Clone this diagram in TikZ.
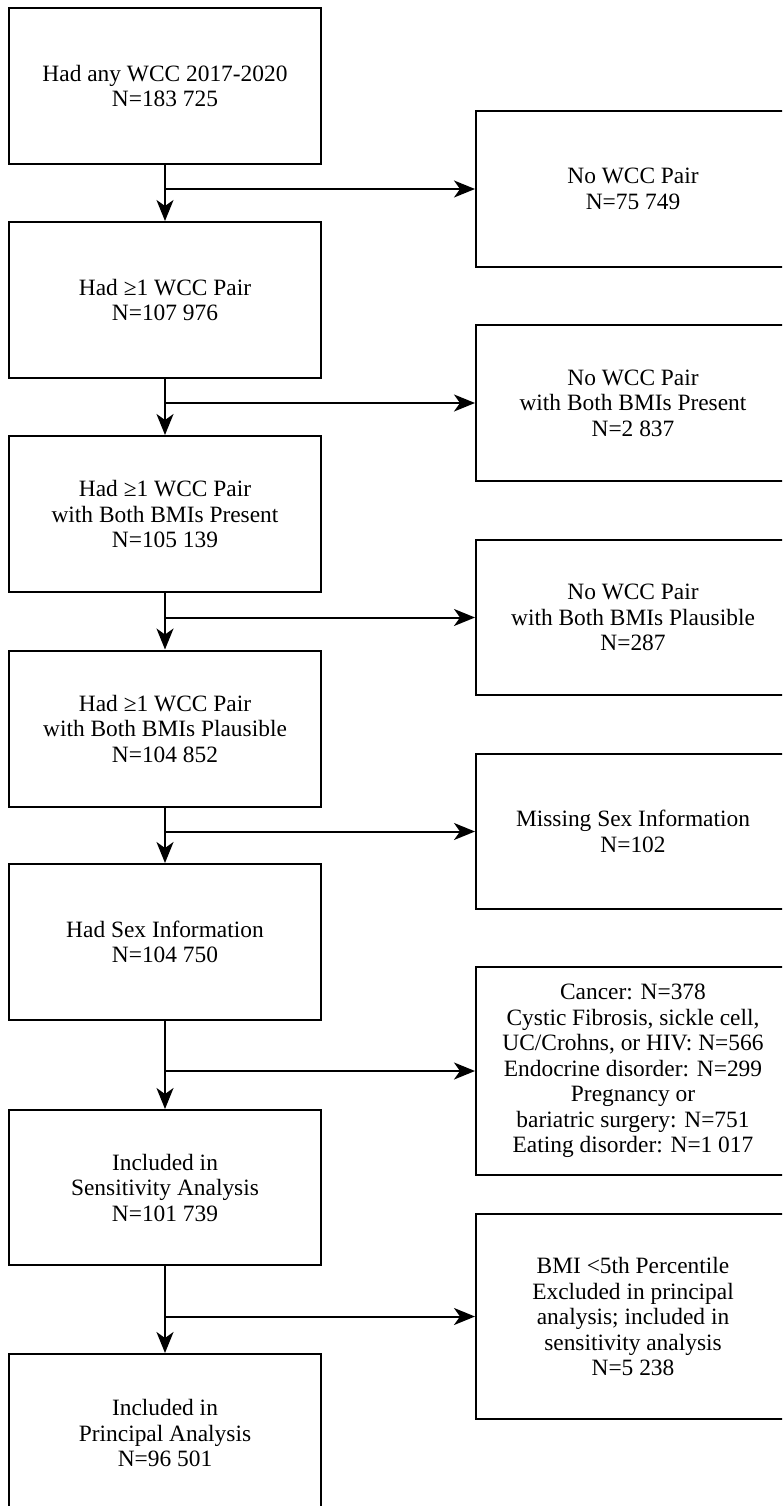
\documentclass[tikz,border=0pt]{standalone}
\usepackage{fontspec}
\setmainfont{Liberation Serif}
\usetikzlibrary{arrows.meta}
\tikzset{
  leftbox/.style={draw, line width=2pt, minimum width=312.5pt, minimum height=156pt, inner sep=0pt, align=center, font=\fontsize{23.4}{25.5}\selectfont},
  rightbox/.style={draw, line width=2pt, minimum width=314pt, inner sep=0pt, align=center, font=\fontsize{23.4}{25.5}\selectfont},
  conn/.style={line width=2pt, -{Stealth[length=21pt, width=17pt, inset=6pt]}},
  plain/.style={line width=2pt}
}
\begin{document}
\begin{tikzpicture}[x=1pt, y=-1pt]
\useasboundingbox (0,0) rectangle (782,1506);
\clip (0,0) rectangle (782,1506);
% left column
\node[leftbox] (b1) at (165,86) {Had any WCC 2017-2020\\N=183 725};
\node[leftbox] (b2) at (165,300) {Had ≥1 WCC Pair\\N=107 976};
\node[leftbox] (b3) at (165,514) {Had ≥1 WCC Pair\\with Both BMIs Present\\N=105 139};
\node[leftbox] (b4) at (165,728.5) {Had ≥1 WCC Pair\\with Both BMIs Plausible\\N=104 852};
\node[leftbox] (b5) at (165,942) {Had Sex Information\\N=104 750};
\node[leftbox, minimum height=155pt] (b6) at (165,1187.5) {Included in\\Sensitivity Analysis\\N=101 739};
\node[leftbox, minimum height=158pt] (b7) at (165,1433) {Included in\\Principal Analysis\\N=96 501};
% right column
\node[rightbox, minimum height=156pt] (r1) at (633,189) {No WCC Pair\\N=75 749};
\node[rightbox, minimum height=156pt] (r2) at (633,403) {No WCC Pair\\with Both BMIs Present\\N=2 837};
\node[rightbox, minimum height=155pt] (r3) at (633,617.5) {No WCC Pair\\with Both BMIs Plausible\\N=287};
\node[rightbox, minimum height=155pt] (r4) at (633,831.5) {Missing Sex Information\\N=102};
\node[rightbox, minimum height=208pt] (r5) at (633,1071) {Cancer: N=378\\Cystic Fibrosis, sickle cell,\\UC/Crohns, or HIV: N=566\\Endocrine disorder: N=299\\Pregnancy or\\bariatric surgery: N=751\\Eating disorder: N=1 017};
\node[rightbox, minimum height=205pt] (r6) at (633,1316.5) {BMI <5th Percentile\\Excluded in principal\\analysis; included in\\sensitivity analysis\\N=5 238};
% junctions
\coordinate (j1) at (b1.south |- r1.west);
\coordinate (j2) at (b2.south |- r2.west);
\coordinate (j3) at (b3.south |- r3.west);
\coordinate (j4) at (b4.south |- r4.west);
\coordinate (j5) at (b5.south |- r5.west);
\coordinate (j6) at (b6.south |- r6.west);
% connectors
\draw[conn] (b1.south) -- (b2.north);
\draw[conn] (b2.south) -- (b3.north);
\draw[conn] (b3.south) -- (b4.north);
\draw[conn] (b4.south) -- (b5.north);
\draw[conn] (b5.south) -- (b6.north);
\draw[conn] (b6.south) -- (b7.north);
\draw[conn] (j1) -- (r1.west);
\draw[conn] (j2) -- (r2.west);
\draw[conn] (j3) -- (r3.west);
\draw[conn] (j4) -- (r4.west);
\draw[conn] (j5) -- (r5.west);
\draw[conn] (j6) -- (r6.west);
\end{tikzpicture}
\end{document}
